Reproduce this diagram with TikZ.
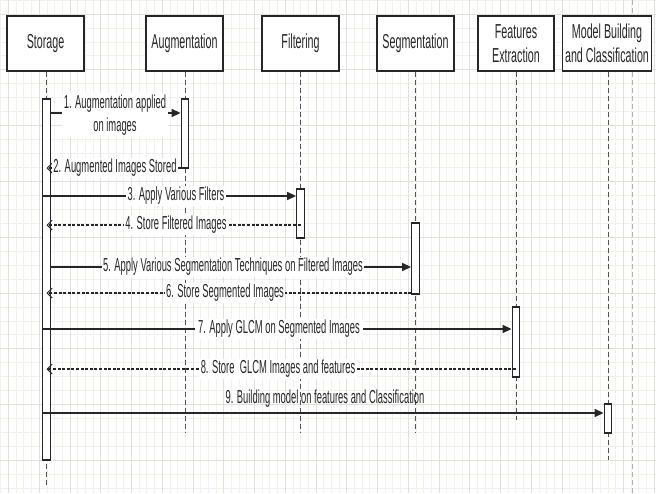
\documentclass[tikz,border=0pt]{standalone}
\usepackage{fontspec}
\setmainfont{Liberation Sans}[FakeStretch=0.53]
\newfontfamily\msgfont{Liberation Sans}[FakeStretch=0.5]
\usetikzlibrary{arrows.meta}
\definecolor{gridmin}{HTML}{F1F1EE}
\definecolor{gridmaj}{HTML}{E0E0DD}
\definecolor{ink}{HTML}{262626}
\tikzset{
  head/.style={draw=ink, line width=1.4pt, fill=white, inner sep=0pt, minimum height=55pt, align=center, text=ink, font=\fontsize{20.2}{23.6}\selectfont},
  act/.style={draw=ink, line width=1.3pt, fill=white, inner sep=0pt, minimum width=7.5pt},
  life/.style={draw=ink!80, line width=1pt, dash pattern=on 5pt off 3pt},
  msg/.style={draw=ink, line width=1.5pt, -{Triangle[length=9pt,width=8pt]}},
  ret/.style={draw=ink, line width=1.3pt, dash pattern=on 3pt off 1.6pt, -{Straight Barb[length=5pt,width=10pt,line width=1pt]}},
  lbl/.style={fill=white, inner sep=1.5pt, text=ink, align=center, font=\msgfont\fontsize{18.8}{23.5}\selectfont},
}
\begin{document}
\begin{tikzpicture}[x=1pt,y=-1pt]
\useasboundingbox (0,0) rectangle (656,493);
\fill[white] (0,0) rectangle (656,493);
% grid
\foreach \i in {-1,...,84} \draw[gridmin, line width=0.8pt] ({8.5+\i*7.6875},0) -- ({8.5+\i*7.6875},493);
\foreach \j in {-1,...,34} \draw[gridmin, line width=0.8pt] (0,{14+\j*13.95}) -- (656,{14+\j*13.95});
\foreach \i in {0,...,21} \draw[gridmaj, line width=1pt] ({8.5+\i*30.75},0) -- ({8.5+\i*30.75},493);
\foreach \j in {0,...,8} \draw[gridmaj, line width=1pt] (0,{14+\j*55.8}) -- (656,{14+\j*55.8});
% page break line
\coordinate (pbt) at (632,0);
\coordinate (pbb) at (632,493);
\draw[gray!60, line width=0.9pt, dash pattern=on 5pt off 3pt] (pbt) -- (pbb);

% headers
\node[head, minimum width=77pt] (hs) at (45.5,43.5) {Storage};
\node[head, minimum width=77pt] (ha) at (184.5,43.5) {Augmentation};
\node[head, minimum width=77pt] (hf) at (300.5,43.5) {Filtering};
\node[head, minimum width=77pt] (hg) at (415.5,43.5) {Segmentation};
\node[head, minimum width=76pt] (he) at (516,43.5) {Features\\Extraction};
\node[head, minimum width=89pt] (hm) at (607,43.5) {Model Building\\and Classification};

% lifeline ends
\coordinate (es) at (46,487);
\coordinate (ea) at (185,433);
\coordinate (ef) at (300.5,433);
\coordinate (eg) at (415.5,433);
\coordinate (ee) at (516,420);
\coordinate (em) at (608,460);
\draw[life] (hs.south -| es) -- (es);
\draw[life] (ha.south -| ea) -- (ea);
\draw[life] (hf.south -| ef) -- (ef);
\draw[life] (hg.south -| eg) -- (eg);
\draw[life] (he.south -| ee) -- (ee);
\draw[life] (hm.south -| em) -- (em);

% activations
\node[act, minimum height=361pt] (as) at (46.5,279.5) {};
\node[act, minimum height=69pt] (aa) at (185,133.5) {};
\node[act, minimum height=49pt] (af) at (300.5,213.5) {};
\node[act, minimum height=71pt] (ag) at (415.5,258.5) {};
\node[act, minimum height=70pt] (ae) at (516,342) {};
\node[act, minimum height=29pt] (am) at (608,418.5) {};

% messages
\draw[msg] (as.east |- 0,113) -- (aa.west |- 0,113);
\node[lbl] (l1) at (115,115) {1. Augmentation applied\\on images};

\draw[ret] (aa.west |- 0,168) -- (as.center |- 0,168);
\node[lbl] (l2) at (115,168) {2. Augmented Images Stored};

\draw[msg] (as.west |- 0,196) -- (af.west |- 0,196);
\node[lbl] (l3) at (176,196) {3. Apply Various Filters};

\draw[ret] (af.center |- 0,225) -- (as.center |- 0,225);
\node[lbl] (l4) at (176,225) {4. Store Filtered Images};

\draw[msg] (as.east |- 0,267) -- (ag.west |- 0,267);
\node[lbl] (l5) at (233,267) {5. Apply Various Segmentation Techniques on Filtered Images};

\draw[ret] (ag.west |- 0,293) -- (as.center |- 0,293);
\node[lbl] (l6) at (225,293) {6. Store Segmented Images};

\draw[msg] (as.west |- 0,329) -- (ae.west |- 0,329);
\node[lbl, inner xsep=3pt] (l7) at (279,329) {7. Apply GLCM on Segmented Images};

\draw[ret] (ae.center |- 0,369) -- (as.center |- 0,369);
\node[lbl] (l8) at (278,369) {8. Store\ \ GLCM Images and features};

\draw[msg] (as.west |- 0,413) -- (am.west |- 0,413);
\node[lbl, fill=none] (l9) at (325,399) {9. Building model on features and Classification};
\end{tikzpicture}
\end{document}
